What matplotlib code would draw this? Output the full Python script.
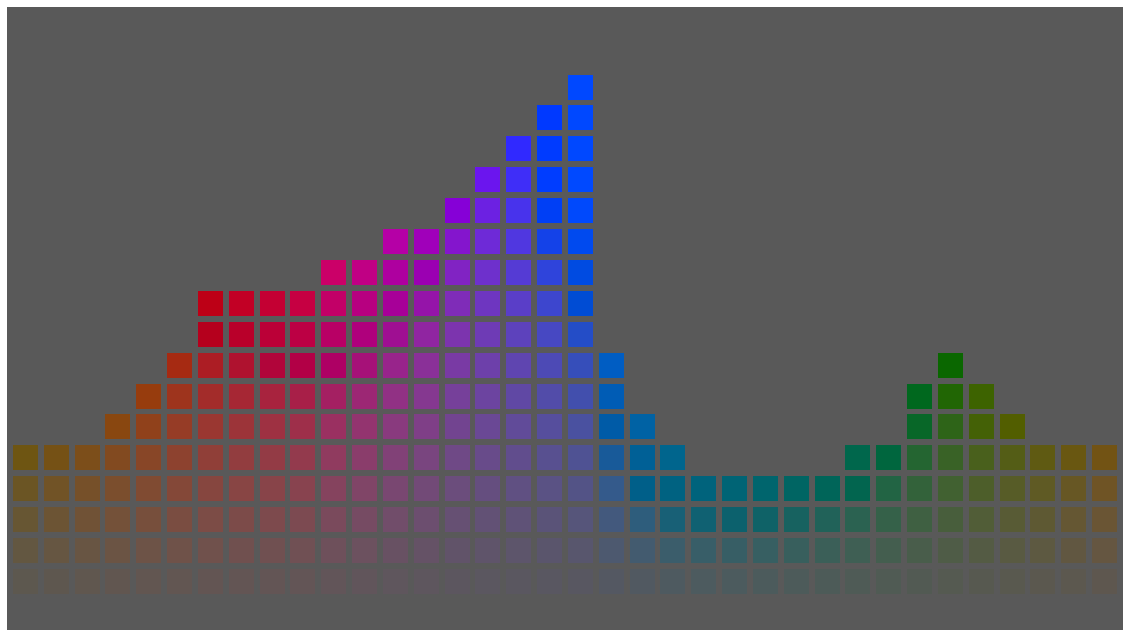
import numpy as np
import matplotlib
matplotlib.use('Agg')
import matplotlib.pyplot as plt
from matplotlib.patches import Rectangle

# number of lit cells per column
heights = [5, 5, 5, 6, 7, 8, 10, 10, 10, 10, 11, 11, 12, 12, 13, 14, 15, 16, 17,
           8, 6, 5, 4, 4, 4, 4, 4, 5, 5, 7, 8, 7, 6, 5, 5, 5]
bg = '#595959'

# LCh hue anchors along the columns (style only)
hue_cols = [0, 3, 6, 9, 10, 12, 14, 16, 18, 19, 20, 21, 24, 27, 29, 31, 33, 35]
hue_vals = [85, 60, 32, 12, -5, -28, -45, -55, -65, -85, -105, -125, -155,
            -190, -215, -240, -260, -280]


def lab_to_srgb(L, a, b):
    fy = (L + 16) / 116
    f = np.array([fy + a / 500, fy, fy - b / 200])
    xyz = np.where(f ** 3 > 0.008856, f ** 3, (f - 16 / 116) / 7.787)
    xyz = xyz * np.array([0.95047, 1.0, 1.08883])
    m = np.array([[3.2406, -1.5372, -0.4986],
                  [-0.9689, 1.8758, 0.0415],
                  [0.0557, -0.2040, 1.0570]])
    c = np.clip(m @ xyz, 0, 1)
    c = np.where(c > 0.0031308, 1.055 * c ** (1 / 2.4) - 0.055, 12.92 * c)
    return tuple(np.clip(c, 0, 1))


def cell_colour(col, row):
    ang = np.radians(np.interp(col, hue_cols, hue_vals))
    chroma = 6 + row * 8.5
    return lab_to_srgb(37.5, chroma * np.cos(ang), chroma * np.sin(ang))


fig = plt.figure(figsize=(11.3, 6.37), dpi=100)
ax = fig.add_axes([7 / 1130, 7 / 637, 1116 / 1130, 623 / 637])
ax.set_facecolor(bg)

size = 0.81
for i, h in enumerate(heights):
    for r in range(h):
        ax.add_patch(Rectangle((i - size / 2, r - size / 2), size, size,
                               color=cell_colour(i, r), lw=0))

ax.set_xlim(-0.6, 35.6)
ax.set_ylim(-1.57, 18.59)
ax.set_xticks([])
ax.set_yticks([])
for s in ax.spines.values():
    s.set_visible(False)

fig.savefig('out.png', dpi=100, facecolor='white')
